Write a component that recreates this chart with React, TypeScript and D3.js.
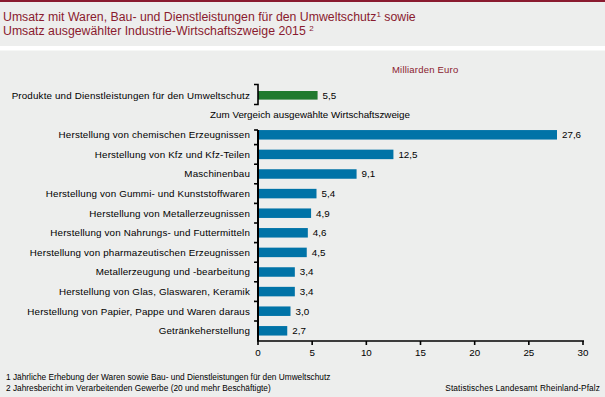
import React from "react";
import * as d3 from "d3";

const title1 = "Umsatz mit Waren, Bau- und Dienstleistungen für den Umweltschutz";
const title1b = " sowie";
const title2 = "Umsatz ausgewählter Industrie-Wirtschaftszweige 2015 ";
const unitLabel = "Milliarden Euro";
const topCategory = "Produkte und Dienstleistungen für den Umweltschutz";
const topValue = 5.5;
const compareLabel = "Zum Vergeich ausgewählte Wirtschaftszweige";
const categories = [
  "Herstellung von chemischen Erzeugnissen",
  "Herstellung von Kfz und Kfz-Teilen",
  "Maschinenbau",
  "Herstellung von Gummi- und Kunststoffwaren",
  "Herstellung von Metallerzeugnissen",
  "Herstellung von Nahrungs- und Futtermitteln",
  "Herstellung von pharmazeutischen Erzeugnissen",
  "Metallerzeugung und -bearbeitung",
  "Herstellung von Glas, Glaswaren, Keramik",
  "Herstellung von Papier, Pappe und Waren daraus",
  "Getränkeherstellung",
];
const values = [27.6, 12.5, 9.1, 5.4, 4.9, 4.6, 4.5, 3.4, 3.4, 3.0, 2.7];
const xTicks = [0, 5, 10, 15, 20, 25, 30];
const footnote1 = "1 Jährliche Erhebung der Waren sowie Bau- und Dienstleistungen für den Umweltschutz";
const footnote2 = "2 Jahresbericht im Verarbeitenden Gewerbe  (20 und mehr Beschäftigte)";
const source = "Statistisches Landesamt Rheinland-Pfalz";

const W = 605;
const H = 397;
const BG = "#edeeed";
const RED = "#8a1b2f";
const BLUE = "#0073a7";
const GREEN = "#207a2e";
const FONT = "'Liberation Sans', Arial, sans-serif";

const fmt = (v: number) => v.toFixed(1).replace(".", ",");

export default function App() {
  const x = d3.scaleLinear().domain([0, 30]).range([258, 583]);
  const y = d3.scaleBand<string>().domain(categories).range([125, 340.6]).padding(0);
  const bw = y.bandwidth();
  const barH = 9.5;
  const topCy = 95.3;
  const axisY = 341;
  const ls = 0.16;

  return (
    <svg
      width={W}
      height={H}
      style={{ position: "absolute", left: 0, top: 0, display: "block" }}
      fontFamily={FONT}
    >
      <rect x={0} y={0} width={W} height={H} fill={BG} />
      <rect x={0} y={46} width={W} height={4.5} fill="#ffffff" />
      <rect x={0} y={0} width={W} height={2} fill={RED} />
      <text x={3} y={21} fontSize={12.3} fill={RED}>
        {title1}
        <tspan fontSize={8} dy={-4}>1</tspan>
        <tspan dy={4}>{title1b}</tspan>
      </text>
      <text x={3} y={35} fontSize={12.3} fill={RED}>
        {title2}
        <tspan fontSize={8} dy={-4}>2</tspan>
      </text>
      <text x={392} y={73} fontSize={9.5} fill={RED} letterSpacing={0.2}>{unitLabel}</text>

      {/* top bar */}
      <rect x={x(0)} y={topCy - 4.3} width={x(topValue) - x(0)} height={8.6} fill={GREEN} />
      <path d={`M254,84.5H258V104.5H254`} fill="none" stroke="#000" strokeWidth={1.6} />
      <text x={250} y={topCy} dy="0.35em" fontSize={9.8} textAnchor="end" fill="#000" letterSpacing={ls}>{topCategory}</text>
      <text x={x(topValue) + 5} y={topCy} dy="0.35em" fontSize={9.8} fill="#000">{fmt(topValue)}</text>
      <text x={310} y={115} dy="0.35em" fontSize={9.8} textAnchor="middle" fill="#000">{compareLabel}</text>

      {/* bars */}
      {categories.map((c, i) => {
        const cy = (y(c) as number) + bw / 2;
        return (
          <g key={c}>
            <rect x={x(0)} y={cy - barH / 2} width={x(values[i]) - x(0)} height={barH} fill={BLUE} />
            <text x={250} y={cy} dy="0.35em" fontSize={9.8} textAnchor="end" fill="#000" letterSpacing={ls}>{c}</text>
            <text x={x(values[i]) + 5} y={cy} dy="0.35em" fontSize={9.8} fill="#000">{fmt(values[i])}</text>
          </g>
        );
      })}

      {/* y axis */}
      <line x1={258} x2={258} y1={130} y2={axisY} stroke="#000" strokeWidth={2} />
      <line x1={254} x2={258} y1={130} y2={130} stroke="#000" strokeWidth={1.6} />
      {categories.slice(1).map((c) => (
        <line key={c} x1={254} x2={258} y1={y(c) as number} y2={y(c) as number} stroke="#000" strokeWidth={1.6} />
      ))}

      {/* x axis */}
      <line x1={x(0) - 1} x2={x(30) + 1} y1={axisY} y2={axisY} stroke="#000" strokeWidth={1.6} />
      {xTicks.map((t) => (
        <g key={t}>
          <line x1={x(t)} x2={x(t)} y1={axisY} y2={axisY + 4} stroke="#000" strokeWidth={1.6} />
          <text x={x(t)} y={axisY + 12} dy="0.35em" fontSize={9.8} textAnchor="middle" fill="#000">{t}</text>
        </g>
      ))}

      {/* footer */}
      <text x={6} y={380} fontSize={8.3} fill="#000">{footnote1}</text>
      <text x={6} y={390.5} fontSize={8.3} fill="#000">{footnote2}</text>
      <text x={600} y={391} fontSize={8.3} textAnchor="end" fill="#000" letterSpacing={0.1}>{source}</text>
    </svg>
  );
}
